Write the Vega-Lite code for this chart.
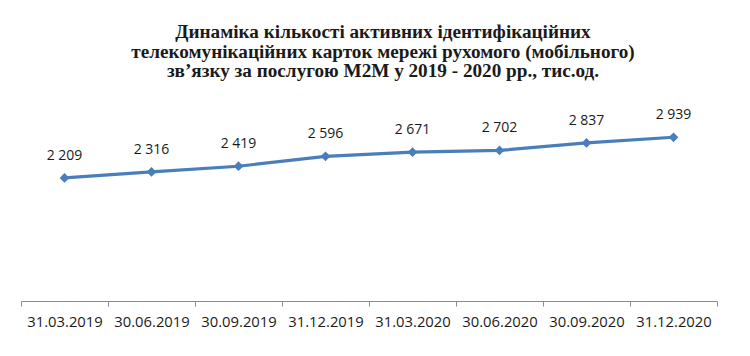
{
  "$schema": "https://vega.github.io/schema/vega-lite/v6.json",
  "width": 696,
  "height": 195,
  "autosize": {"type": "none"},
  "padding": {"left": 21, "top": 106, "right": 33, "bottom": 55},
  "background": "white",
  "config": {
    "view": {"stroke": null},
    "locale": {"number": {"decimal": ",", "thousands": " ", "grouping": [3], "currency": ["", ""]}}
  },
  "title": {
    "text": ["Динаміка кількості активних ідентифікаційних", "телекомунікаційних карток мережі рухомого (мобільного)", "зв’язку за послугою M2M у 2019 - 2020 рр., тис.од."],
    "font": "Liberation Serif",
    "fontSize": 19.2,
    "fontWeight": "bold",
    "color": "#1a1a1a",
    "anchor": "middle",
    "frame": "group",
    "lineHeight": 19.2,
    "dx": 14,
    "offset": 25
  },
  "data": {
    "values": [
      {"date": "31.03.2019", "value": 2209},
      {"date": "30.06.2019", "value": 2316},
      {"date": "30.09.2019", "value": 2419},
      {"date": "31.12.2019", "value": 2596},
      {"date": "31.03.2020", "value": 2671},
      {"date": "30.06.2020", "value": 2702},
      {"date": "30.09.2020", "value": 2837},
      {"date": "31.12.2020", "value": 2939}
    ]
  },
  "encoding": {
    "x": {
      "field": "date",
      "type": "nominal",
      "sort": null,
      "scale": {"type": "band", "paddingInner": 0, "paddingOuter": 0},
      "axis": {
        "title": null,
        "labelAngle": 0,
        "tickBand": "extent",
        "domainColor": "#8c8c8c",
        "tickColor": "#8c8c8c",
        "tickSize": 5,
        "labelFont": "Open Sans",
        "labelFontSize": 14.8,
        "labelColor": "#1a1a1a",
        "labelPadding": 8,
        "grid": false
      }
    },
    "y": {
      "field": "value",
      "type": "quantitative",
      "scale": {"domain": [0, 3500]},
      "axis": null
    }
  },
  "layer": [
    {"mark": {"type": "line", "color": "#4a7ebb", "strokeWidth": 3.2}},
    {"mark": {"type": "point", "shape": "diamond", "filled": true, "opacity": 1, "color": "#4a7ebb", "size": 95}},
    {
      "mark": {"type": "text", "dy": -22, "font": "Open Sans", "fontSize": 14, "color": "#1a1a1a"},
      "encoding": {"text": {"field": "value", "type": "quantitative", "format": ",d"}}
    }
  ]
}
